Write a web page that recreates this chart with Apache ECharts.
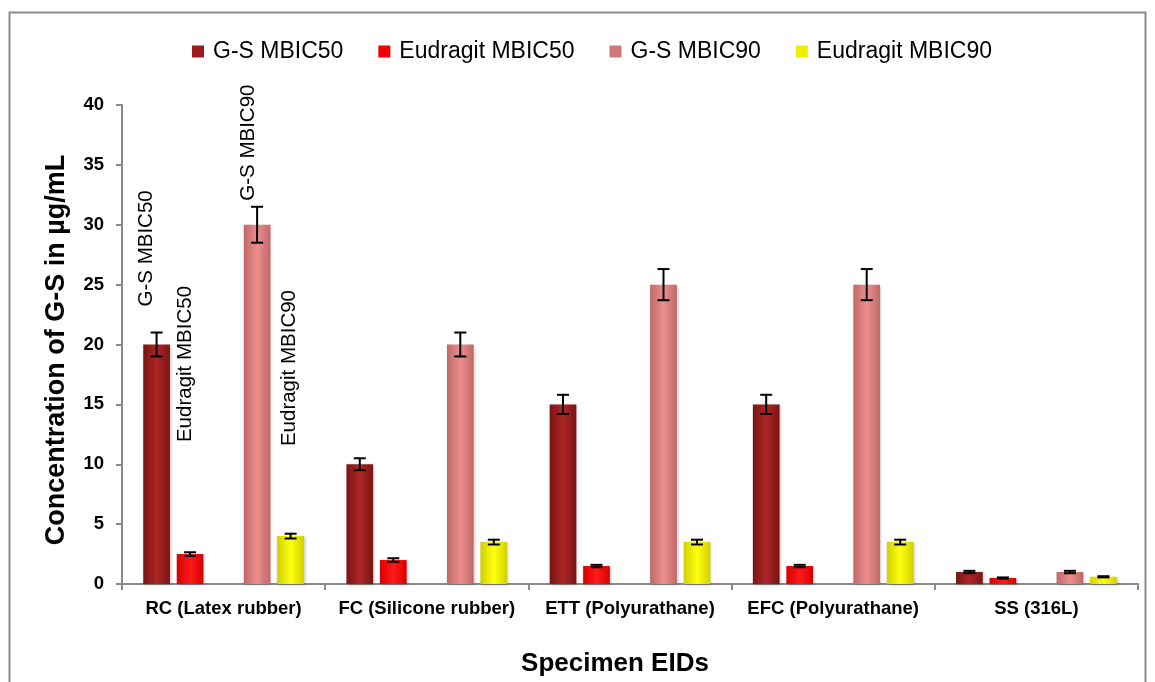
<!DOCTYPE html>
<html><head><meta charset="utf-8">
<script src="https://cdn.jsdelivr.net/npm/echarts@6/dist/echarts.min.js"></script>
<style>html,body{margin:0;padding:0;background:#fff}#c{width:1155px;height:682px}</style>
</head><body><div id="c"></div>
<script>
const categories = ['RC (Latex rubber)', 'FC (Silicone rubber)', 'ETT (Polyurathane)', 'EFC (Polyurathane)', 'SS (316L)'];
const seriesNames = ['G-S MBIC50', 'Eudragit MBIC50', 'G-S MBIC90', 'Eudragit MBIC90'];
const gsMbic50 = [20, 10, 15, 15, 1];
const eudMbic50 = [2.5, 2, 1.5, 1.5, 0.5];
const gsMbic90 = [30, 20, 25, 25, 1];
const eudMbic90 = [4, 3.5, 3.5, 3.5, 0.6];
const gsMbic50Err = [1.0, 0.5, 0.8, 0.8, 0.1];
const eudMbic50Err = [0.15, 0.15, 0.1, 0.1, 0.05];
const gsMbic90Err = [1.5, 1.0, 1.3, 1.3, 0.1];
const eudMbic90Err = [0.2, 0.2, 0.2, 0.2, 0.05];
const yTicks = [0, 5, 10, 15, 20, 25, 30, 35, 40];

const BW = 26.7, GAP = 6.8;
function grad(edge, mid) {
  return new echarts.graphic.LinearGradient(0, 0, 1, 0, [
    {offset: 0, color: edge}, {offset: 0.5, color: mid}, {offset: 1, color: edge}]);
}
const styles = [
  {c: grad('#7a1414', '#ad2626'), legend: '#9a1c1c'},
  {c: grad('#d80000', '#ff1a1a'), legend: '#f00000'},
  {c: grad('#c06868', '#ec8e8e'), legend: '#d07878'},
  {c: grad('#d0d000', '#ffff10'), legend: '#eeee00'}
];
const values = [gsMbic50, eudMbic50, gsMbic90, eudMbic90];
const errs = [gsMbic50Err, eudMbic50Err, gsMbic90Err, eudMbic90Err];
const slots = [0, 1, 3, 4];
const annot = [
  {dist: 38, off: [0, -10]},
  {dist: 112, off: [0, -5]},
  {dist: 24, off: [0, -9]},
  {dist: 90, off: [0, -1]}
];

const series = [];
const barSeries = values.map((v, i) => ({
  name: seriesNames[i], type: 'bar', barWidth: BW, barGap: (GAP / BW * 100) + '%',
  itemStyle: {color: styles[i].c, shadowColor: 'rgba(0,0,0,0.25)', shadowBlur: 3, shadowOffsetX: 1, shadowOffsetY: 1},
  data: v.map((val, j) => j === 0 ? {
    value: val,
    label: {show: true, position: 'top', rotate: 90, align: 'left', verticalAlign: 'middle',
      distance: annot[i].dist, offset: annot[i].off, formatter: seriesNames[i],
      fontFamily: 'Liberation Sans', fontSize: 20.5, color: '#000'}
  } : val)
}));
series.push(barSeries[0], barSeries[1]);
series.push({name: 'blank', type: 'bar', barWidth: BW, data: categories.map(() => '-')});
series.push(barSeries[2], barSeries[3]);

values.forEach((v, i) => {
  series.push({
    type: 'custom', name: seriesNames[i] + ' err', z: 10,
    data: v.map((val, j) => [j, val - errs[i][j], val + errs[i][j]]),
    renderItem: function (params, api) {
      const lo = api.coord([api.value(0), api.value(1)]);
      const hi = api.coord([api.value(0), api.value(2)]);
      const dx = (slots[i] - 2) * (BW + GAP);
      const x = lo[0] + dx, hw = 6;
      const st = {stroke: '#000', lineWidth: 2};
      return {type: 'group', children: [
        {type: 'line', shape: {x1: x, y1: lo[1], x2: x, y2: hi[1]}, style: st},
        {type: 'line', shape: {x1: x - hw, y1: lo[1], x2: x + hw, y2: lo[1]}, style: st},
        {type: 'line', shape: {x1: x - hw, y1: hi[1], x2: x + hw, y2: hi[1]}, style: st}
      ]};
    }
  });
});

const chart = echarts.init(document.getElementById('c'));
chart.setOption({
  animation: false,
  backgroundColor: '#fff',
  graphic: [{type: 'rect', shape: {x: 9.5, y: 12.5, width: 1136, height: 680},
    style: {fill: 'none', stroke: '#8c8c8c', lineWidth: 2}, silent: true}],
  legend: {
    data: seriesNames.map((n, i) => ({name: n, itemStyle: {color: styles[i].legend}})),
    top: 35, left: 187, itemWidth: 12, itemHeight: 12, itemGap: 35, icon: 'rect',
    textStyle: {fontFamily: 'Liberation Sans', fontSize: 23, color: '#000', padding: [0, 0, 0, 4]}
  },
  grid: {left: 122, right: 17, top: 105, bottom: 93},
  xAxis: {
    type: 'category', data: categories,
    name: 'Specimen EIDs', nameLocation: 'middle', nameGap: 67,
    nameTextStyle: {fontFamily: 'Liberation Sans', fontWeight: 'bold', fontSize: 26, color: '#000', padding: [0, 30, 0, 0]},
    axisLine: {lineStyle: {color: '#8a8a8a', width: 2}},
    axisTick: {show: true, length: 6, lineStyle: {color: '#8a8a8a', width: 2}},
    axisLabel: {interval: 0, fontFamily: 'Liberation Sans', fontWeight: 'bold', fontSize: 18.5, color: '#000', margin: 15}
  },
  yAxis: {
    type: 'value', min: 0, max: 40, interval: 5,
    name: 'Concentration of G-S in µg/mL', nameLocation: 'middle', nameGap: 52,
    nameTextStyle: {fontFamily: 'Liberation Sans', fontWeight: 'bold', fontSize: 27, color: '#000', padding: [0, 11, 0, 0]},
    axisLine: {show: true, lineStyle: {color: '#8a8a8a', width: 2}},
    axisTick: {show: true, length: 6, lineStyle: {color: '#8a8a8a', width: 2}},
    splitLine: {show: false},
    axisLabel: {fontFamily: 'Liberation Sans', fontWeight: 'bold', fontSize: 18.5, color: '#000', margin: 18,
      formatter: v => yTicks.includes(v) ? String(v) : ''}
  },
  series: series
});
</script></body></html>
